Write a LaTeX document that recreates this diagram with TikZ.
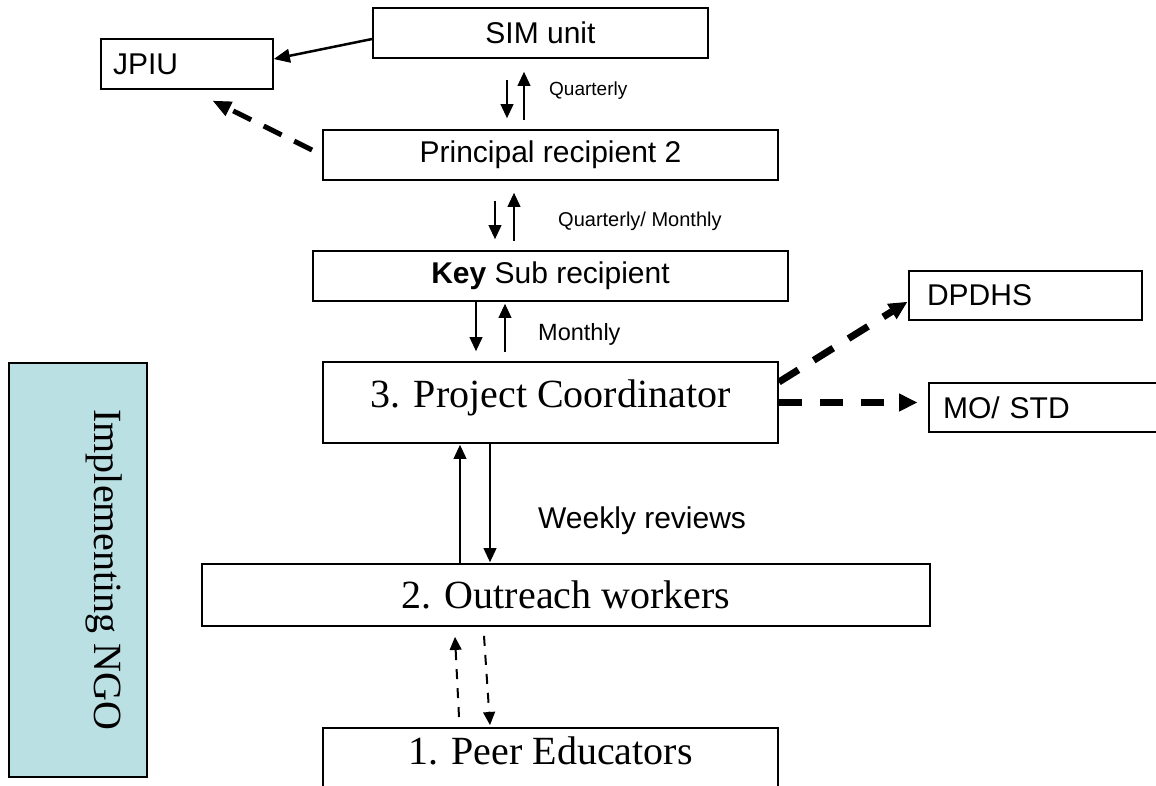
\documentclass[tikz,border=0pt]{standalone}
\usepackage{fontspec}
\setmainfont{Liberation Serif}
\newfontfamily\sansfam{Liberation Sans}
\usetikzlibrary{arrows.meta}
\definecolor{ngofill}{RGB}{187,224,227}

\tikzset{
  box/.style={draw=black, line width=1.8pt, minimum height=50pt, inner sep=0pt,
    font=\sansfam\fontsize{30pt}{36pt}\selectfont},
  bigbox/.style={draw=black, line width=1.8pt, inner sep=0pt,
    font=\fontsize{40pt}{48pt}\selectfont},
  lbl/.style={inner sep=0pt, anchor=base west},
  flow/.style={line width=2pt, -{Triangle[length=14pt,width=13pt,line width=1pt]}},
  link/.style={line width=2.5pt, -{Triangle[length=16pt,width=14pt,line width=1pt]}},
  dashflow/.style={line width=2pt, dash pattern=on 10pt off 9pt,
    -{Triangle[length=13pt,width=12pt,line width=1pt]}},
  dashmid/.style={line width=5pt, dash pattern=on 20pt off 14pt,
    -{Triangle[length=18pt,width=16pt,line width=1pt]}},
  dashbold/.style={line width=7pt, dash pattern=on 23pt off 18pt,
    -{Triangle[length=18pt,width=18pt,line width=1pt]}},
}

\begin{document}
\begin{tikzpicture}[x=1pt, y=-1pt]
\useasboundingbox (0,0) rectangle (1156,785);
\clip (0,0) rectangle (1156,785);

% reporting chain
\node[box, minimum width=335pt] (sim) at (540.5,33) {SIM unit};
\node[box, text width=148pt, inner xsep=12pt, align=left] (jpiu) at (187,64) {JPIU};
\node[box, minimum width=455pt] (pr2) at (550.5,155) {Principal recipient 2};
\node[box, minimum width=475pt] (key) at (550.5,276) {\textbf{Key} Sub recipient};
\node[box, text width=197pt, inner xsep=18pt, align=left, minimum height=49pt] (dp) at (1025.5,295.5) {DPDHS};
\node[box, text width=213pt, inner xsep=14pt, align=left, minimum height=49pt] (mo) at (1049.5,407.5) {MO/ STD};

% implementing NGO levels
\node[bigbox, minimum width=455pt, minimum height=81pt] (pc) at (550.5,402.5)
  {\raisebox{4.8pt}[\height][\depth]{3. Project Coordinator}};
\node[bigbox, minimum width=728pt, minimum height=62pt] (ow) at (566,595) {2. Outreach workers};
\node[bigbox, minimum width=455pt, minimum height=90pt, anchor=north] (pe) at (550.5,727)
  {\raisebox{22.5pt}[\height][\depth]{1. Peer Educators}};

\node[bigbox, fill=ngofill, minimum width=414pt, minimum height=138pt, rotate=-90] (ngo) at (78,570)
  {\raisebox{26pt}[\height][\depth]{Implementing NGO}};

% frequency labels
\node[lbl, font=\sansfam\fontsize{19pt}{22pt}\selectfont] (q1) at (549,95) {Quarterly};
\node[lbl, font=\sansfam\fontsize{20pt}{24pt}\selectfont] (q2) at (558,226) {Quarterly/ Monthly};
\node[lbl, font=\sansfam\fontsize{23.5pt}{28pt}\selectfont] (m1) at (538,340) {Monthly};
\node[lbl, font=\sansfam\fontsize{30pt}{36pt}\selectfont] (wr) at (538,528) {Weekly reviews};

% connectors
\draw[link] ([yshift=-6pt]sim.west) -- ([yshift=5pt]jpiu.east);
\draw[dashmid] ([xshift=-10pt,yshift=5pt]pr2.west) -- ([xshift=26pt,yshift=-11pt]jpiu.south);

\draw[flow, shorten <=21pt, shorten >=11pt] ([xshift=-33.5pt]sim.south) -- ([xshift=-33.5pt]sim.south |- pr2.north);
\draw[flow, shorten <=9pt, shorten >=13pt] ([xshift=-16.5pt]sim.south |- pr2.north) -- ([xshift=-16.5pt]sim.south);

\draw[flow, shorten <=20pt, shorten >=11pt] ([xshift=-55.5pt]pr2.south) -- ([xshift=-55.5pt]pr2.south |- key.north);
\draw[flow, shorten <=9pt, shorten >=12pt] ([xshift=-36.5pt]pr2.south |- key.north) -- ([xshift=-36.5pt]pr2.south);

\draw[flow, shorten >=10pt] ([xshift=-74.5pt]key.south) -- ([xshift=-74.5pt]key.south |- pc.north);
\draw[flow, shorten <=9pt, shorten >=2pt] ([xshift=-45.5pt]key.south |- pc.north) -- ([xshift=-45.5pt]key.south);

\draw[flow, shorten >=1pt] ([xshift=-90.5pt]pc.south |- ow.north) -- ([xshift=-90.5pt]pc.south);
\draw[flow, shorten >=1pt] ([xshift=-60.5pt]pc.south) -- ([xshift=-60.5pt]pc.south |- ow.north);

\draw[dashflow] ([xshift=-91.5pt,yshift=10pt]pe.north) -- ([xshift=-111pt,yshift=-10pt]ow.south);
\draw[dashflow] ([xshift=-82pt,yshift=-9pt]ow.south) -- ([xshift=-60.5pt,yshift=2pt]pe.north);

\draw[dashbold] ([yshift=20.5pt]pc.east) -- ([xshift=-1pt,yshift=-6.5pt]dp.west);
\draw[dashbold] (pc.east) -- ([xshift=-11pt]mo.west |- pc.east);
\end{tikzpicture}
\end{document}
